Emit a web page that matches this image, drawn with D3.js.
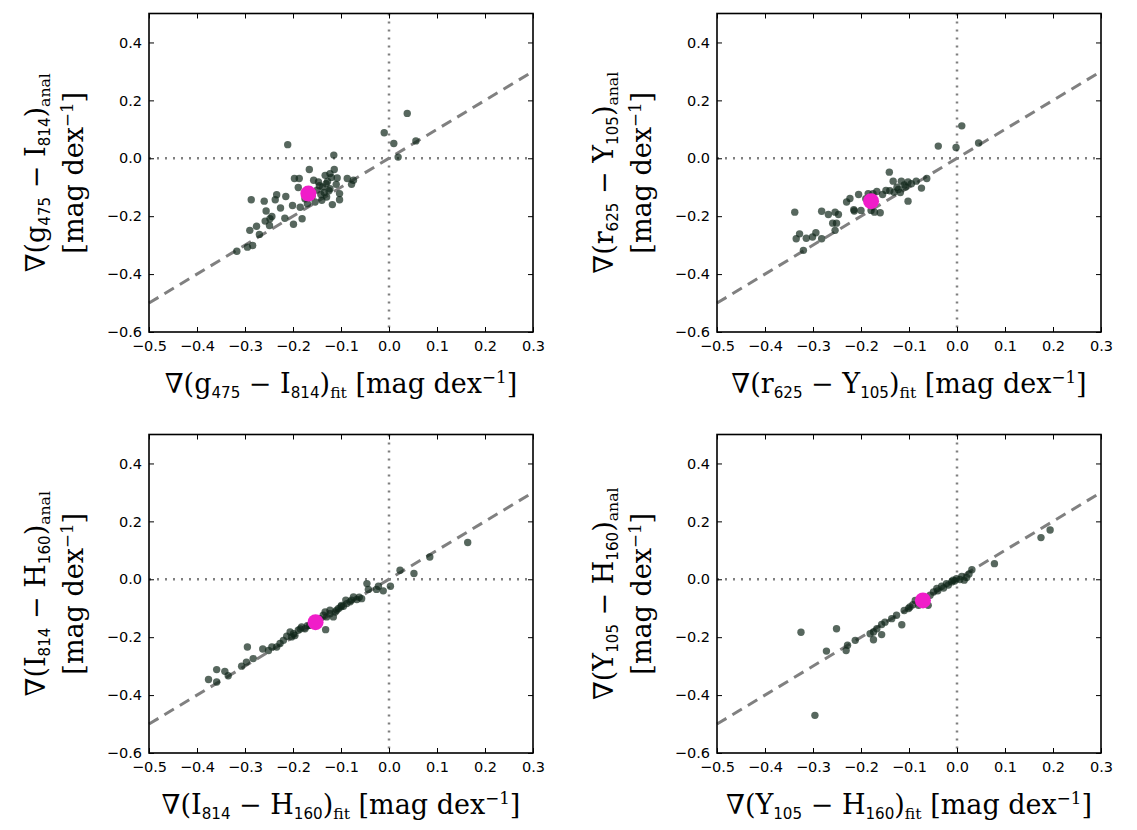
<!DOCTYPE html>
<html>
<head>
<meta charset="utf-8">
<script src="https://cdn.jsdelivr.net/npm/d3@7"></script>
<style>
  body { margin: 0; background: #fff; }
  svg text { fill: #000; }
</style>
</head>
<body>
<div id="viz"></div>
<script>
// ---- data ----
var xTicks = [-0.5, -0.4, -0.3, -0.2, -0.1, 0.0, 0.1, 0.2, 0.3];
var yTicks = [-0.6, -0.4, -0.2, 0.0, 0.2, 0.4];

// panel 1: g475 - I814
var gI_x = [0.038, -0.010, 0.010, 0.056, 0.019, -0.211, -0.115, -0.166, -0.114, -0.197, -0.187,
    -0.133, -0.123, -0.157, -0.147, -0.087, -0.074, -0.078, -0.138, -0.123, -0.131, -0.189,
    -0.103, -0.103, -0.118, -0.130, -0.234, -0.215, -0.237, -0.260, -0.287, -0.201, -0.185,
    -0.226, -0.256, -0.170, -0.154, -0.140, -0.244, -0.248, -0.217, -0.181, -0.258, -0.249,
    -0.199, -0.276, -0.290, -0.270, -0.284, -0.295, -0.317, -0.128, -0.120, -0.145, -0.150,
    -0.135, -0.110, -0.160, -0.142, -0.125, -0.175, -0.108];
var gI_y = [0.155, 0.088, 0.051, 0.060, 0.004, 0.047, 0.011, -0.039, -0.039, -0.070, -0.070,
    -0.059, -0.053, -0.076, -0.082, -0.070, -0.076, -0.090, -0.099, -0.105, -0.088, -0.101,
    -0.122, -0.143, -0.160, -0.134, -0.126, -0.132, -0.143, -0.148, -0.143, -0.163, -0.169,
    -0.172, -0.182, -0.157, -0.151, -0.145, -0.201, -0.209, -0.207, -0.209, -0.217, -0.232,
    -0.228, -0.235, -0.249, -0.263, -0.301, -0.307, -0.321, -0.080, -0.066, -0.095, -0.110,
    -0.118, -0.090, -0.130, -0.125, -0.112, -0.140, -0.068];
var gI_mean = [-0.168, -0.122];

// panel 2: r625 - Y105
var rY_x = [0.010, -0.039, -0.002, 0.045, -0.141, -0.133, -0.116, -0.102, -0.085, -0.063,
    -0.074, -0.107, -0.122, -0.131, -0.148, -0.102, -0.167, -0.175, -0.185, -0.205, -0.223,
    -0.230, -0.214, -0.200, -0.179, -0.160, -0.172, -0.338, -0.282, -0.268, -0.254, -0.247,
    -0.259, -0.251, -0.254, -0.328, -0.335, -0.314, -0.301, -0.294, -0.282, -0.320, -0.125,
    -0.140, -0.155, -0.110, -0.095, -0.190, -0.215, -0.118];
var rY_y = [0.112, 0.042, 0.037, 0.053, -0.048, -0.079, -0.079, -0.082, -0.079, -0.070,
    -0.103, -0.099, -0.108, -0.117, -0.111, -0.148, -0.115, -0.122, -0.122, -0.125, -0.139,
    -0.151, -0.182, -0.180, -0.180, -0.188, -0.186, -0.186, -0.183, -0.194, -0.186, -0.194,
    -0.224, -0.224, -0.249, -0.261, -0.278, -0.276, -0.272, -0.257, -0.278, -0.318, -0.100,
    -0.112, -0.125, -0.092, -0.088, -0.140, -0.178, -0.118];
var rY_mean = [-0.179, -0.148];

// panel 3: I814 - H160
var IH_x = [0.164, 0.085, 0.023, 0.052, 0.003, -0.012, -0.026, -0.022, -0.046, -0.043, -0.132,
    -0.295, -0.283, -0.297, -0.307, -0.359, -0.342, -0.335, -0.376, -0.359, -0.057, -0.067,
    -0.078, -0.088, -0.095, -0.105, -0.112, -0.123, -0.133, -0.130, -0.116, -0.144, -0.165,
    -0.175, -0.182, -0.189, -0.199, -0.203, -0.213, -0.220, -0.227, -0.234, -0.244, -0.251,
    -0.196, -0.206, -0.074, -0.090, -0.109, -0.081, -0.099, -0.123, -0.137, -0.151, -0.170,
    -0.185, -0.062, -0.100, -0.263];
var IH_y = [0.127, 0.077, 0.031, 0.020, -0.024, -0.040, -0.035, -0.024, -0.015, -0.035, -0.174,
    -0.234, -0.274, -0.286, -0.300, -0.312, -0.318, -0.333, -0.346, -0.355, -0.067, -0.070,
    -0.072, -0.084, -0.093, -0.101, -0.113, -0.119, -0.113, -0.130, -0.130, -0.136, -0.159,
    -0.171, -0.165, -0.176, -0.188, -0.199, -0.197, -0.211, -0.222, -0.234, -0.234, -0.246,
    -0.194, -0.182, -0.061, -0.072, -0.107, -0.078, -0.090, -0.107, -0.124, -0.142, -0.160,
    -0.172, -0.062, -0.095, -0.241];
var IH_mean = [-0.153, -0.148];

// panel 4: Y105 - H160
var YH_x = [0.194, 0.175, 0.078, 0.031, 0.020, 0.006, -0.001, -0.011, -0.022, -0.032, -0.042,
    -0.049, -0.056, -0.060, -0.087, -0.098, -0.101, -0.126, -0.136, -0.150, -0.157, -0.167,
    -0.174, -0.181, 0.010, 0.015, -0.008, -0.115, -0.157, -0.174, -0.212, -0.228, -0.231,
    -0.251, -0.272, -0.325, -0.296, -0.080, -0.066, -0.040, -0.018, -0.005, 0.025, -0.092,
    -0.110, -0.028];
var YH_y = [0.170, 0.144, 0.054, 0.033, 0.006, -0.001, 0.002, -0.009, -0.015, -0.024, -0.032,
    -0.044, -0.055, -0.090, -0.073, -0.096, -0.101, -0.124, -0.136, -0.148, -0.156, -0.171,
    -0.182, -0.188, 0.010, -0.003, -0.003, -0.157, -0.191, -0.209, -0.211, -0.228, -0.246,
    -0.171, -0.248, -0.183, -0.470, -0.090, -0.065, -0.040, -0.020, -0.006, 0.018, -0.088,
    -0.108, -0.030];
var YH_mean = [-0.071, -0.073];

var panels = [
    {xs: gI_x, ys: gI_y, mean: gI_mean, left: 149, top: 13.5, a: "g", ai: "475", b: "I", bi: "814"},
    {xs: rY_x, ys: rY_y, mean: rY_mean, left: 717, top: 13.5, a: "r", ai: "625", b: "Y", bi: "105"},
    {xs: IH_x, ys: IH_y, mean: IH_mean, left: 149, top: 434.5, a: "I", ai: "814", b: "H", bi: "160"},
    {xs: YH_x, ys: YH_y, mean: YH_mean, left: 717, top: 434.5, a: "Y", ai: "105", b: "H", bi: "160"}
];

var W = 1137, H = 830;
var pw = 384, ph = 318.5;
var serif = "'DejaVu Serif', serif";
var sans = "'DejaVu Sans', sans-serif";

var svg = d3.select("#viz").append("svg")
    .attr("width", W)
    .attr("height", H);

// pieces are [text, kind]: n = normal, sb = sans subscript, rb = serif subscript, sp = superscript
function addPieces(text, pieces, size) {
    var shift = 0;
    pieces.forEach(function(p) {
        var t = text.append("tspan").text(p[0]);
        var target = 0;
        if (p[1] == "n") {
            t.style("font-family", serif).style("font-size", size + "px");
        } else if (p[1] == "sb") {
            t.style("font-family", sans).style("font-size", (size * 0.56) + "px");
            target = size * 0.17;
        } else if (p[1] == "rb") {
            t.style("font-family", serif).style("font-size", (size * 0.58) + "px");
            target = size * 0.17;
        } else if (p[1] == "sp") {
            t.style("font-family", serif).style("font-size", (size * 0.62) + "px");
            target = -size * 0.38;
        }
        t.attr("dy", target - shift);
        shift = target;
    });
}

function drawPanel(p) {
    var g = svg.append("g").attr("transform", "translate(" + p.left + "," + p.top + ")");
    var x = d3.scaleLinear().domain([-0.5, 0.3]).range([0, pw]);
    var y = d3.scaleLinear().domain([-0.6, 0.5]).range([ph, 0]);

    // reference lines
    g.append("line")
        .attr("x1", x(-0.5)).attr("y1", y(-0.5))
        .attr("x2", x(0.3)).attr("y2", y(0.3))
        .attr("stroke", "#808080").attr("stroke-width", 3)
        .attr("stroke-dasharray", "11,7");
    g.append("line")
        .attr("x1", 0).attr("x2", pw).attr("y1", y(0)).attr("y2", y(0))
        .attr("stroke", "#808080").attr("stroke-width", 2.5)
        .attr("stroke-dasharray", "2,6");
    g.append("line")
        .attr("x1", x(0)).attr("x2", x(0)).attr("y1", 0).attr("y2", ph)
        .attr("stroke", "#808080").attr("stroke-width", 2.5)
        .attr("stroke-dasharray", "2,6");

    // points
    var pts = p.xs.map(function(d, i) { return [d, p.ys[i]]; });
    g.selectAll("circle.pt").data(pts).enter().append("circle")
        .attr("class", "pt")
        .attr("cx", function(d) { return x(d[0]); })
        .attr("cy", function(d) { return y(d[1]); })
        .attr("r", 3.7)
        .attr("fill", "#10271a")
        .attr("fill-opacity", 0.7);
    g.append("circle")
        .attr("cx", x(p.mean[0])).attr("cy", y(p.mean[1]))
        .attr("r", 8)
        .attr("fill", "#f01dc9");

    // axes, ticks inward on all four sides
    var axB = g.append("g").attr("transform", "translate(0," + ph + ")")
        .call(d3.axisBottom(x).tickValues(xTicks).tickSizeInner(-5).tickSizeOuter(0)
              .tickPadding(9).tickFormat(d3.format(".1f")));
    var axT = g.append("g")
        .call(d3.axisTop(x).tickValues(xTicks).tickSizeInner(-5).tickSizeOuter(0).tickFormat(""));
    var axL = g.append("g")
        .call(d3.axisLeft(y).tickValues(yTicks).tickSizeInner(-5).tickSizeOuter(0)
              .tickPadding(7).tickFormat(d3.format(".1f")));
    var axR = g.append("g").attr("transform", "translate(" + pw + ",0)")
        .call(d3.axisRight(y).tickValues(yTicks).tickSizeInner(-5).tickSizeOuter(0).tickFormat(""));
    [axB, axT, axL, axR].forEach(function(a) {
        a.select(".domain").remove();
        a.selectAll(".tick line").attr("stroke", "#000").attr("stroke-width", 1);
        a.selectAll("text").style("font-family", sans).style("font-size", "14.5px").attr("fill", "#000");
    });

    g.append("rect")
        .attr("width", pw).attr("height", ph)
        .attr("fill", "none").attr("stroke", "#000").attr("stroke-width", 1.6);

    // x label
    var xl = g.append("text")
        .attr("x", pw / 2).attr("y", ph + 61)
        .attr("text-anchor", "middle");
    addPieces(xl, [["\u2207(" + p.a, "n"], [p.ai, "sb"], [" \u2212 " + p.b, "n"], [p.bi, "sb"],
                   [")", "n"], ["fit", "rb"], [" [mag dex", "n"], ["\u22121", "sp"], ["]", "n"]], 27);

    // y label, two lines
    var yl1 = g.append("text")
        .attr("transform", "translate(-104," + (ph / 2) + ") rotate(-90)")
        .attr("text-anchor", "middle");
    addPieces(yl1, [["\u2207(" + p.a, "n"], [p.ai, "sb"], [" \u2212 " + p.b, "n"], [p.bi, "sb"],
                    [")", "n"], ["anal", "rb"]], 27);
    var yl2 = g.append("text")
        .attr("transform", "translate(-66," + (ph / 2) + ") rotate(-90)")
        .attr("text-anchor", "middle");
    addPieces(yl2, [["[mag dex", "n"], ["\u22121", "sp"], ["]", "n"]], 27);
}

panels.forEach(drawPanel);
</script>
</body>
</html>
